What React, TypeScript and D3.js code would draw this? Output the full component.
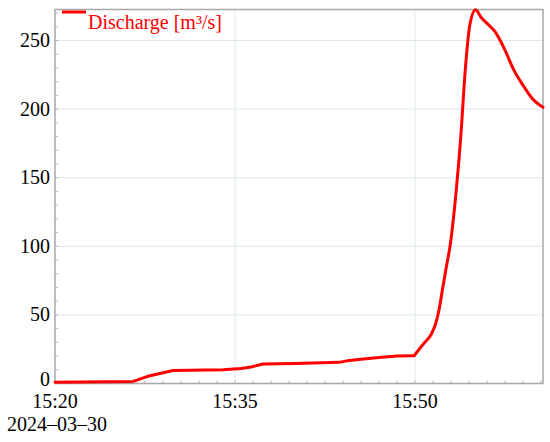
import React from "react";
import * as d3 from "d3";

const times: string[] = [
  "15:20:00", "15:26:30", "15:26:50", "15:27:50", "15:29:50", "15:34:00", "15:35:30",
  "15:36:20", "15:37:20", "15:40:00", "15:43:40", "15:44:20", "15:45:30", "15:47:00",
  "15:48:30", "15:49:56", "15:50:45", "15:51:19", "15:51:44", "15:52:00", "15:52:17",
  "15:52:34", "15:52:58", "15:53:25", "15:53:50", "15:54:10", "15:54:35", "15:55:03",
  "15:55:30", "15:56:00", "15:56:40", "15:57:30", "15:58:10", "15:59:05", "15:59:45",
  "16:00:40",
];
const discharge: number[] = [
  1.0, 1.5, 2.5, 5.5, 9.5, 10.0, 11.0,
  12.0, 14.2, 14.6, 15.4, 16.5, 17.6, 19.0,
  20.0, 20.3, 29.3, 35.3, 43.9, 53.6, 68.1,
  82.7, 103, 139, 182, 226, 262, 272.5,
  267, 262.5, 256.4, 243, 229.7, 216.3, 207.9,
  201.3,
];
const yTicks: number[] = [0, 50, 100, 150, 200, 250];
const xTickLabels: string[] = ["15:20", "15:35", "15:50"];
const dateLabel = "2024–03–30";
const legendLabel = "Discharge [m³/s]";
const riseStart = "15:49:56";

const W = 550;
const H = 442;
const M = { left: 55, right: 7, top: 9.5, bottom: 58.5 };
const parse = d3.timeParse("%Y-%m-%d %H:%M:%S");
const day = "2024-03-30 ";

type Pt = { t: Date; v: number };

export default function App() {
  const x = d3
    .scaleTime()
    .domain([parse(day + "15:20:00")!, parse(day + "16:00:40")!])
    .range([M.left, W - M.right]);
  const y = d3.scaleLinear().domain([0, 272.6]).range([H - M.bottom, M.top]);
  const data: Pt[] = times.map((t, i) => ({ t: parse(day + t)!, v: discharge[i] }));
  const split = times.indexOf(riseStart);
  const low = data.slice(0, split + 1);
  const high = data.slice(split);
  const lineLow = d3
    .line<Pt>()
    .x((d) => x(d.t))
    .y((d) => y(d.v))
    .curve(d3.curveLinear);
  const lineHigh = d3
    .line<Pt>()
    .x((d) => x(d.t))
    .y((d) => y(d.v))
    .curve(d3.curveMonotoneX);

  const xMajor = xTickLabels.map((s) => parse(day + s + ":00")!);
  const xMinor: Date[] = [];
  for (let m = 0; m <= 41; m += 1.5) {
    const d = new Date(parse(day + "15:20:00")!.getTime() + m * 60000);
    if (d <= x.domain()[1]) xMinor.push(d);
  }
  const yMinor = d3.range(0, 271, 10);
  const font = "'Liberation Serif', 'Times New Roman', serif";
  const x0 = M.left;
  const x1 = W - M.right;
  const y0 = H - M.bottom;
  const y1 = M.top;

  return (
    <svg width={W} height={H} style={{ position: "absolute", left: 0, top: 0, background: "#fff" }}>
      <rect x={0} y={0} width={W} height={H} fill="#fff" />
      {yTicks.slice(1).map((v) => (
        <line key={"gy" + v} x1={x0} x2={x1} y1={y(v)} y2={y(v)} stroke="#dde9ee" strokeWidth={1} />
      ))}
      {xMajor.slice(1).map((d, i) => (
        <line key={"gx" + i} x1={x(d)} x2={x(d)} y1={y1} y2={y0} stroke="#dde9ee" strokeWidth={1} />
      ))}
      {yMinor.map((v) => (
        <line key={"my" + v} x1={x0} x2={x0 + 3} y1={y(v)} y2={y(v)} stroke="#b5b5b5" strokeWidth={1} />
      ))}
      {xMinor.map((d, i) => (
        <line key={"mx" + i} x1={x(d)} x2={x(d)} y1={y0} y2={y0 - 3} stroke="#b5b5b5" strokeWidth={1} />
      ))}
      <rect x={x0} y={y1} width={x1 - x0} height={y0 - y1} fill="none" stroke="#a8a8a8" strokeWidth={1.5} />
      <path d={lineLow(low) || ""} fill="none" stroke="#ff0000" strokeWidth={3} strokeLinejoin="round" strokeLinecap="round" />
      <path d={lineHigh(high) || ""} fill="none" stroke="#ff0000" strokeWidth={3} strokeLinejoin="round" strokeLinecap="round" />
      {yTicks.map((v) => (
        <text key={"yl" + v} x={50} y={y(v) + (v === 0 ? 2 : 6.5)} textAnchor="end" fontFamily={font} fontSize={20} fill="#000">
          {v}
        </text>
      ))}
      {xMajor.map((d, i) => (
        <text key={"xl" + i} x={x(d)} y={408} textAnchor="middle" fontFamily={font} fontSize={20} fill="#000">
          {xTickLabels[i]}
        </text>
      ))}
      <text x={7} y={431} fontFamily={font} fontSize={20} fill="#000">
        {dateLabel}
      </text>
      <line x1={62} x2={86} y1={12} y2={12} stroke="#ff0000" strokeWidth={3} />
      <text x={88} y={29} fontFamily={font} fontSize={20} fill="#ff0000">
        {legendLabel}
      </text>
    </svg>
  );
}
